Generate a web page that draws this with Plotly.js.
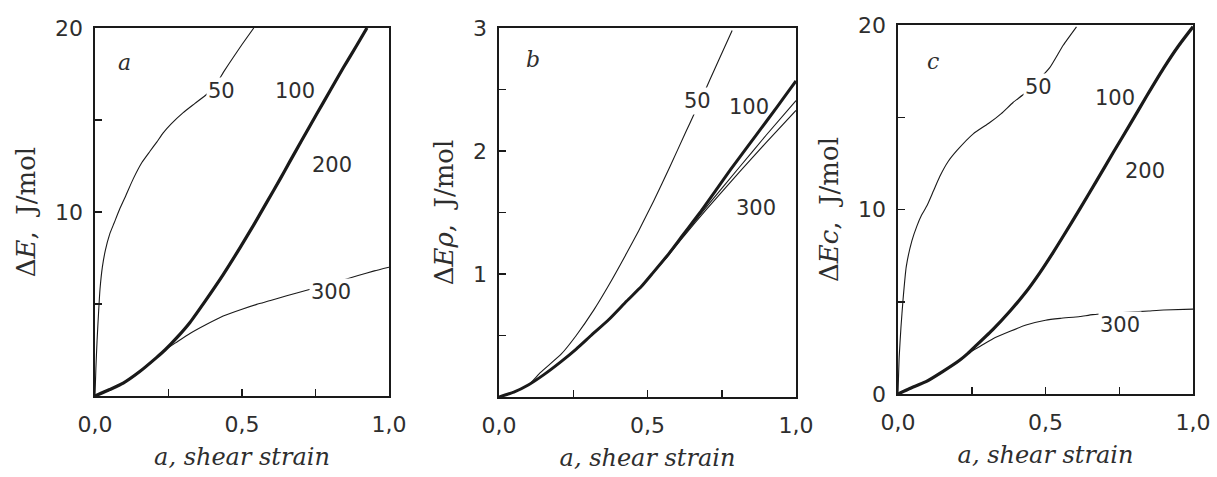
<!DOCTYPE html>
<html>
<head>
<meta charset="utf-8">
<script src="https://cdn.plot.ly/plotly-3.0.1.min.js"></script>
<style>html,body{margin:0;padding:0;background:#fff;}#chart{width:1217px;height:477px;}</style>
</head>
<body>
<div id="chart"></div>
<script>
// ---------- Data (a = shear strain, values in J/mol) ----------
// Panel a: ΔE
const aX50  = [0, 0.003, 0.007, 0.012, 0.017, 0.025, 0.035, 0.05, 0.065, 0.085, 0.105, 0.13, 0.16, 0.187, 0.21, 0.232, 0.26, 0.3, 0.34, 0.38, 0.41, 0.437, 0.47, 0.5, 0.54];
const aE50  = [0, 1.5, 3.0, 4.5, 5.8, 7.0, 7.9, 8.8, 9.4, 10.2, 10.9, 11.8, 12.7, 13.3, 13.8, 14.3, 14.8, 15.4, 15.9, 16.4, 16.9, 17.6, 18.4, 19.1, 20.0];
const aX100 = [0, 0.05, 0.096, 0.15, 0.21, 0.238, 0.28, 0.323, 0.37, 0.436, 0.493, 0.54, 0.585, 0.63, 0.663, 0.7, 0.755, 0.8, 0.845, 0.89, 0.925];
const aE100 = [0, 0.35, 0.7, 1.3, 2.1, 2.5, 3.2, 4.0, 5.05, 6.6, 8.05, 9.3, 10.55, 11.8, 12.75, 13.8, 15.35, 16.6, 17.85, 19.05, 20.0];
const aX200 = [0, 0.05, 0.096, 0.15, 0.21, 0.238, 0.28, 0.323, 0.37, 0.436, 0.493, 0.54, 0.585, 0.63, 0.663, 0.7, 0.755, 0.8, 0.845, 0.89, 0.925];
const aE200 = [0, 0.35, 0.7, 1.3, 2.1, 2.5, 3.2, 4.0, 5.05, 6.6, 8.05, 9.3, 10.55, 11.8, 12.75, 13.8, 15.35, 16.6, 17.85, 19.05, 20.0];
const aX300 = [0, 0.05, 0.096, 0.15, 0.21, 0.238, 0.28, 0.323, 0.38, 0.436, 0.5, 0.55, 0.6, 0.652, 0.72, 0.8, 0.895, 0.95, 1.0];
const aE300 = [0, 0.35, 0.7, 1.3, 2.1, 2.5, 2.95, 3.4, 3.9, 4.35, 4.72, 4.98, 5.2, 5.45, 5.75, 6.1, 6.55, 6.8, 7.0];

// Panel b: ΔEρ
const bX50  = [0, 0.05, 0.1, 0.14, 0.21, 0.26, 0.32, 0.37, 0.43, 0.47, 0.52, 0.575, 0.63, 0.655, 0.69, 0.71, 0.74, 0.785];
const bE50  = [0, 0.04, 0.1, 0.2, 0.35, 0.5, 0.71, 0.91, 1.17, 1.35, 1.59, 1.87, 2.16, 2.29, 2.47, 2.58, 2.74, 2.98];
const bX100 = [0, 0.05, 0.1, 0.15, 0.21, 0.26, 0.31, 0.37, 0.43, 0.48, 0.515, 0.57, 0.62, 0.677, 0.73, 0.78, 0.835, 0.9, 0.97, 1.0];
const bE100 = [0, 0.04, 0.1, 0.18, 0.29, 0.39, 0.5, 0.63, 0.78, 0.9, 1.0, 1.16, 1.32, 1.5, 1.68, 1.85, 2.03, 2.24, 2.47, 2.57];
const bX200 = [0, 0.05, 0.1, 0.15, 0.21, 0.26, 0.31, 0.37, 0.43, 0.48, 0.515, 0.57, 0.62, 0.7, 0.81, 0.9, 1.0];
const bE200 = [0, 0.04, 0.1, 0.18, 0.29, 0.39, 0.5, 0.63, 0.78, 0.9, 1.0, 1.16, 1.31, 1.55, 1.87, 2.13, 2.41];
const bX300 = [0, 0.05, 0.1, 0.15, 0.21, 0.26, 0.31, 0.37, 0.43, 0.48, 0.515, 0.57, 0.62, 0.7, 0.81, 0.9, 1.0];
const bE300 = [0, 0.04, 0.1, 0.18, 0.29, 0.39, 0.5, 0.63, 0.78, 0.9, 1.0, 1.15, 1.30, 1.53, 1.83, 2.07, 2.33];

// Panel c: ΔEc
const cX50  = [0, 0.004, 0.01, 0.017, 0.028, 0.047, 0.064, 0.08, 0.098, 0.12, 0.142, 0.17, 0.2, 0.255, 0.31, 0.35, 0.39, 0.43, 0.475, 0.515, 0.56, 0.605];
const cE50  = [0, 2.0, 3.6, 5.1, 6.9, 8.3, 9.1, 9.7, 10.2, 11.0, 11.8, 12.6, 13.2, 14.1, 14.7, 15.2, 15.8, 16.3, 17.0, 17.7, 18.9, 19.9];
const cX100 = [0, 0.04, 0.095, 0.15, 0.21, 0.237, 0.26, 0.322, 0.38, 0.435, 0.48, 0.525, 0.56, 0.617, 0.673, 0.73, 0.786, 0.843, 0.9, 0.95, 1.0];
const cE100 = [0, 0.3, 0.67, 1.2, 1.84, 2.2, 2.55, 3.5, 4.5, 5.55, 6.55, 7.65, 8.55, 10.05, 11.55, 13.1, 14.6, 16.15, 17.65, 18.85, 19.9];
const cX200 = [0, 0.04, 0.095, 0.15, 0.21, 0.237, 0.26, 0.322, 0.38, 0.435, 0.48, 0.525, 0.56, 0.617, 0.673, 0.73, 0.786, 0.843, 0.9, 0.95, 1.0];
const cE200 = [0, 0.3, 0.67, 1.2, 1.84, 2.2, 2.55, 3.5, 4.5, 5.55, 6.55, 7.65, 8.55, 10.05, 11.55, 13.1, 14.6, 16.15, 17.65, 18.85, 19.9];
const cX300 = [0, 0.04, 0.095, 0.15, 0.21, 0.237, 0.28, 0.322, 0.38, 0.434, 0.5, 0.55, 0.617, 0.66, 0.75, 0.85, 0.9, 1.0];
const cE300 = [0, 0.3, 0.67, 1.2, 1.84, 2.2, 2.6, 3.0, 3.4, 3.74, 4.0, 4.1, 4.2, 4.3, 4.4, 4.5, 4.55, 4.6];

// Tick labels
const xTickVals = [0, 0.5, 1];
const xTickText = ['0,0', '0,5', '1,0'];
const xMinor = [0.25, 0.75];
const aYTickVals = [10, 20];
const aYMinor = [5, 15];
const bYTickVals = [1, 2, 3];
const bYMinor = [0.5, 1.5, 2.5];
const cYTickVals = [0, 10, 20];
const cYMinor = [5, 15];

// ---------- Styling ----------
const INK = '#1a1a1a';
const TXT = '#2e2e2e';
const W = 1217, H = 477;
function line(x, y, xa, ya, w, name) {
  return {x: x, y: y, xaxis: xa, yaxis: ya, type: 'scatter', mode: 'lines', name: name,
          line: {color: INK, width: w, shape: 'spline', smoothing: 0.5}, hoverinfo: 'skip', showlegend: false};
}
const traces = [
  line(aX300, aE300, 'x', 'y', 1.1, '300'),
  line(aX50, aE50, 'x', 'y', 1.1, '50'),
  line(aX100, aE100, 'x', 'y', 3.2, '100'),
  line(aX200, aE200, 'x', 'y', 1.5, '200'),
  line(bX50, bE50, 'x2', 'y2', 1.1, '50'),
  line(bX300, bE300, 'x2', 'y2', 1.1, '300'),
  line(bX200, bE200, 'x2', 'y2', 1.1, '200'),
  line(bX100, bE100, 'x2', 'y2', 3.0, '100'),
  line(cX300, cE300, 'x3', 'y3', 1.1, '300'),
  line(cX50, cE50, 'x3', 'y3', 1.1, '50'),
  line(cX100, cE100, 'x3', 'y3', 3.2, '100'),
  line(cX200, cE200, 'x3', 'y3', 1.5, '200')
];

const tickFont = {family: 'DejaVu Sans', size: 22, color: TXT};
const titleFontX = {family: 'DejaVu Serif', size: 24, color: TXT};
const titleFontY = {family: 'DejaVu Serif', size: 26, color: TXT};

function xAxis(l, r, anchor) {
  return {
    domain: [l / W, r / W], anchor: anchor, range: [0, 1],
    tickmode: 'array', tickvals: xTickVals, ticktext: xTickText,
    ticks: 'inside', ticklen: 7, tickwidth: 1.5, tickcolor: INK,
    minor: {tickmode: 'array', tickvals: xMinor, ticks: 'inside', ticklen: 7, tickwidth: 1.5, tickcolor: INK, showgrid: false},
    showline: true, mirror: true, linecolor: INK, linewidth: 1.6,
    showgrid: false, zeroline: false, tickfont: tickFont, ticklabelstandoff: 8,
    title: {text: '<i>a, shear strain</i>', font: titleFontX, standoff: 12}
  };
}
function yAxis(t, b, anchor, range, vals, minor, title) {
  return {
    domain: [1 - b / H, 1 - t / H], anchor: anchor, range: range,
    tickmode: 'array', tickvals: vals, ticktext: vals.map(String),
    ticks: 'inside', ticklen: 7, tickwidth: 1.5, tickcolor: INK,
    minor: {tickmode: 'array', tickvals: minor, ticks: 'inside', ticklen: 7, tickwidth: 1.5, tickcolor: INK, showgrid: false},
    showline: true, mirror: true, linecolor: INK, linewidth: 1.6,
    showgrid: false, zeroline: false, tickfont: tickFont, ticklabelstandoff: 6,
    title: {text: title, font: titleFontY, standoff: 12}
  };
}

function lab(text, x, y, xr, yr, bg, italic) {
  return {text: italic ? '<i>' + text + '</i>' : text, x: x, y: y, xref: xr, yref: yr,
          showarrow: false, xanchor: 'center', yanchor: 'middle',
          font: italic ? {family: 'DejaVu Serif', size: 22, color: TXT} : {family: 'DejaVu Sans', size: 21, color: TXT},
          bgcolor: bg ? '#ffffff' : 'rgba(0,0,0,0)', borderpad: 1};
}

const annotations = [
  lab('a', 0.102, 18.15, 'x', 'y', false, true),
  lab('50', 0.429, 16.6, 'x', 'y', true),
  lab('100', 0.68, 16.6, 'x', 'y', false),
  lab('200', 0.806, 12.55, 'x', 'y', false),
  lab('300', 0.803, 5.65, 'x', 'y', true),
  lab('b', 0.114, 2.74, 'x2', 'y2', false, true),
  lab('50', 0.667, 2.41, 'x2', 'y2', true),
  lab('100', 0.842, 2.36, 'x2', 'y2', false),
  lab('300', 0.865, 1.54, 'x2', 'y2', false),
  lab('c', 0.119, 18.0, 'x3', 'y3', false, true),
  lab('50', 0.475, 16.64, 'x3', 'y3', true),
  lab('100', 0.736, 16.04, 'x3', 'y3', false),
  lab('200', 0.837, 12.09, 'x3', 'y3', false),
  lab('300', 0.753, 3.74, 'x3', 'y3', true)
];

const layout = {
  width: W, height: H,
  margin: {l: 0, r: 0, t: 0, b: 0},
  paper_bgcolor: '#ffffff', plot_bgcolor: '#ffffff',
  showlegend: false,
  xaxis: xAxis(95, 389, 'y'),
  yaxis: yAxis(28, 396, 'x', [0, 20], aYTickVals, aYMinor, 'Δ<i>E</i>,\u00a0\u00a0J/mol'),
  xaxis2: xAxis(499, 796, 'y2'),
  yaxis2: yAxis(28, 397, 'x2', [0, 3], bYTickVals, bYMinor, 'Δ<i>Eρ</i>,\u00a0\u00a0J/mol'),
  xaxis3: xAxis(898, 1193, 'y3'),
  yaxis3: yAxis(25, 394, 'x3', [0, 20], cYTickVals, cYMinor, 'Δ<i>Ec</i>,\u00a0\u00a0J/mol'),
  annotations: annotations
};

Plotly.newPlot('chart', traces, layout, {staticPlot: true, displayModeBar: false});
</script>
</body>
</html>
